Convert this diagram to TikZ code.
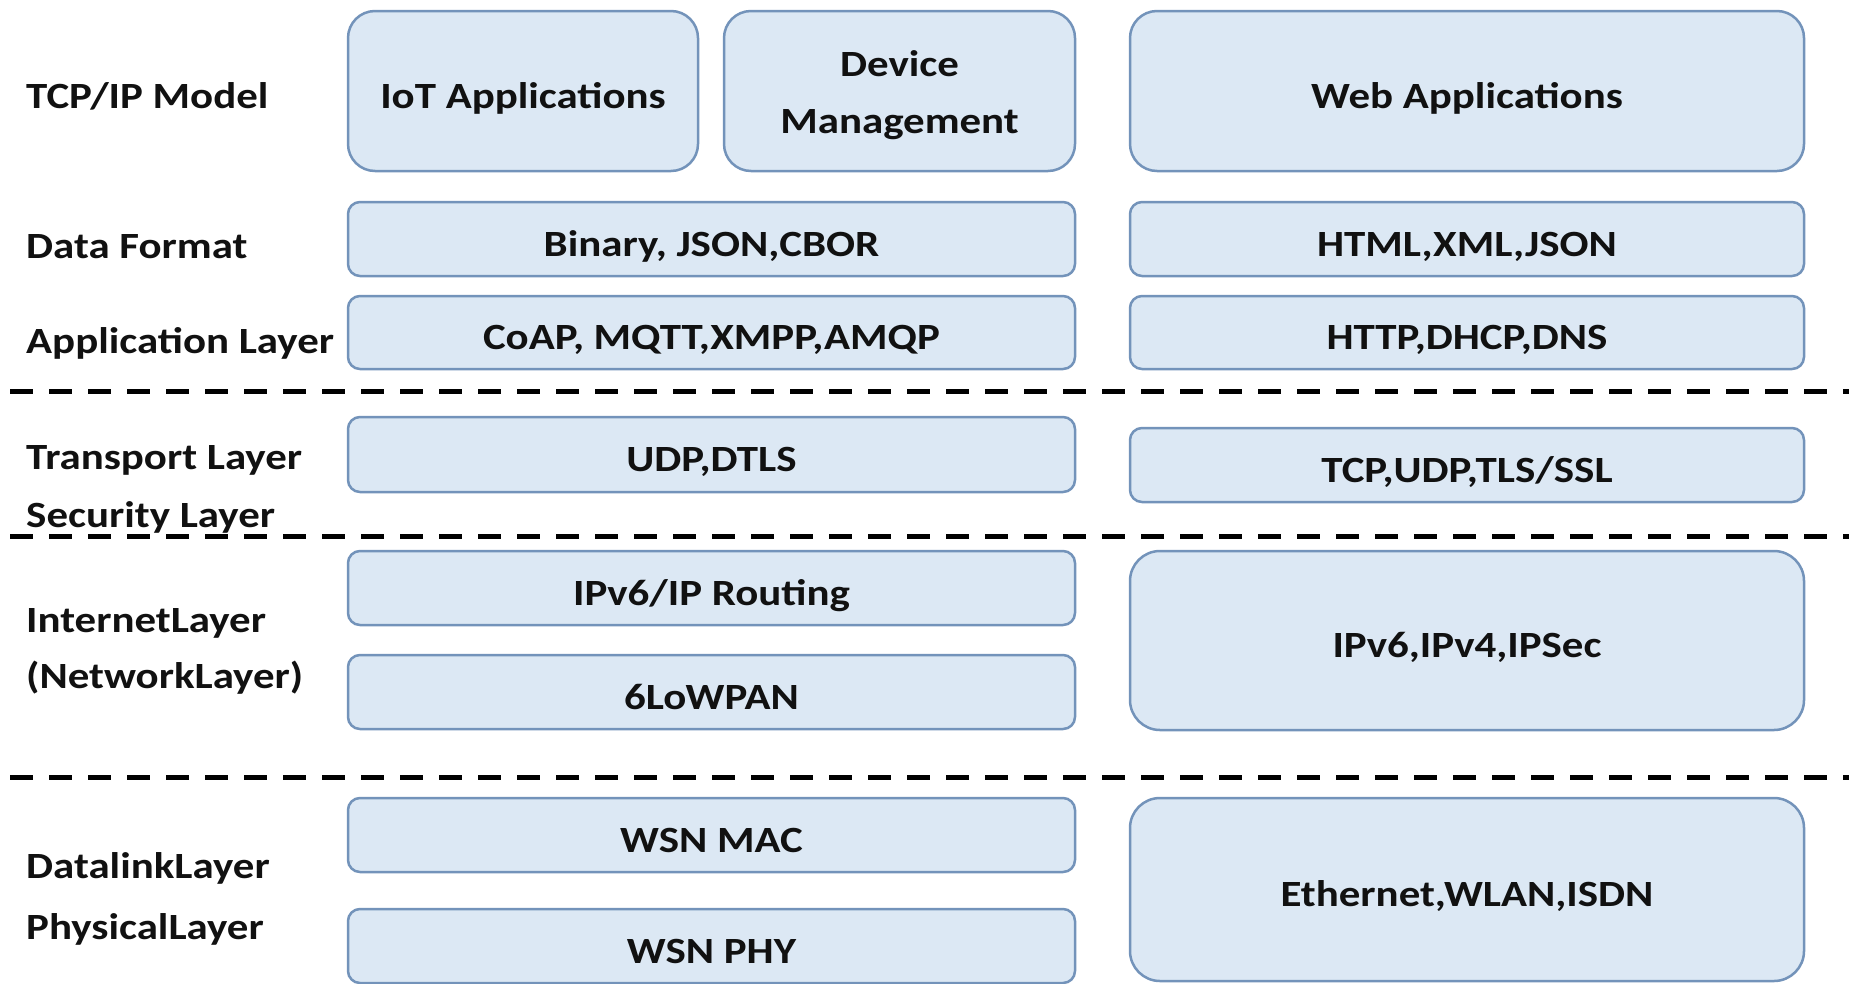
\documentclass[tikz,border=0pt]{standalone}
\usepackage{fontspec}
\setmainfont{Carlito}[FakeStretch=1.16]
\definecolor{boxfill}{HTML}{DCE8F4}
\definecolor{boxedge}{HTML}{7393BA}
\definecolor{ink}{HTML}{111111}
\tikzset{
  txt/.style={font=\fontsize{37}{57}\selectfont\bfseries, text=ink},
  framed/.style={txt, draw=boxedge, fill=boxfill, line width=2.5pt,
    inner sep=0pt, align=center},
  layerbox/.style={framed, text height=34pt, text depth=0pt},
  lbl/.style={txt, anchor=base west, inner sep=0pt},
  sep/.style={line width=5pt, dash pattern=on 23pt off 16pt}
}
\begin{document}
\begin{tikzpicture}[x=1pt,y=-1pt]
\useasboundingbox (0,0) rectangle (1849,983);

% layer names on the left
\node[lbl] (l1) at (26,108) {TCP/IP Model};
\node[lbl] (l2) at (26,258) {Data Format};
\node[lbl] (l3) at (26,353) {Application Layer};
\node[lbl] (l4) at (26,469) {Transport Layer};
\node[lbl] (l5) at (26,527) {Security Layer};
\node[lbl] (l6) at (26,632) {InternetLayer};
\node[lbl] (l7) at (26,688) {(NetworkLayer)};
\node[lbl] (l8) at (26,878) {DatalinkLayer};
\node[lbl] (l9) at (26,939) {PhysicalLayer};

% IoT stack
\node[layerbox, minimum width=350pt, minimum height=160pt, rounded corners=27pt] (iot) at (523,91) {IoT Applications};
\node[framed, minimum width=351pt, minimum height=160pt, rounded corners=27pt] (dev) at (899.5,91) {\rule{0pt}{34pt}Device\\Management};
\node[layerbox, minimum width=727pt, minimum height=74pt, rounded corners=12pt] (df) at (711.5,239) {Binary, JSON,CBOR};
\node[layerbox, minimum width=727pt, minimum height=73pt, rounded corners=12pt] (app) at (711.5,332.5) {CoAP, MQTT,XMPP,AMQP};
\node[layerbox, minimum width=727pt, minimum height=75pt, rounded corners=12pt] (udp) at (711.5,454.5) {UDP,DTLS};
\node[layerbox, minimum width=727pt, minimum height=74pt, rounded corners=12pt] (ipr) at (711.5,588) {IPv6/IP Routing};
\node[layerbox, minimum width=727pt, minimum height=74pt, rounded corners=12pt] (low) at (711.5,692) {6LoWPAN};
\node[layerbox, minimum width=727pt, minimum height=74pt, rounded corners=12pt] (mac) at (711.5,835) {WSN MAC};
\node[layerbox, minimum width=727pt, minimum height=74pt, rounded corners=12pt] (phy) at (711.5,946) {WSN PHY};

% Web stack
\node[layerbox, minimum width=674pt, minimum height=160pt, rounded corners=27pt] (web) at (1467,91) {Web Applications};
\node[layerbox, minimum width=674pt, minimum height=74pt, rounded corners=12pt] (dfw) at (1467,239) {HTML,XML,JSON};
\node[layerbox, minimum width=674pt, minimum height=73pt, rounded corners=12pt] (appw) at (1467,332.5) {HTTP,DHCP,DNS};
\node[layerbox, minimum width=674pt, minimum height=74pt, rounded corners=12pt] (tcp) at (1467,465) {TCP,UDP,TLS/SSL};
\node[layerbox, minimum width=674pt, minimum height=179pt, rounded corners=30pt] (ipw) at (1467,640.5) {IPv6,IPv4,IPSec};
\node[layerbox, minimum width=674pt, minimum height=183pt, rounded corners=30pt] (eth) at (1467,889.5) {Ethernet,WLAN,ISDN};

% dashed separators
\coordinate (s1a) at (10,391);  \coordinate (s1b) at (1849,391);
\coordinate (s2a) at (10,536);  \coordinate (s2b) at (1849,536);
\coordinate (s3a) at (10,777);  \coordinate (s3b) at (1849,777);
\draw[sep] (s1a) -- (s1b);
\draw[sep] (s2a) -- (s2b);
\draw[sep] (s3a) -- (s3b);
\end{tikzpicture}
\end{document}
